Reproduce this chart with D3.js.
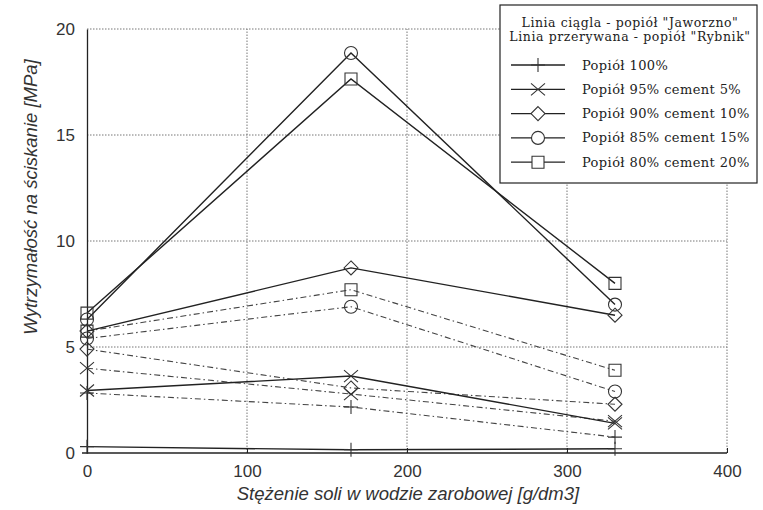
<!DOCTYPE html>
<html>
<head>
<meta charset="utf-8">
<script src="https://cdn.jsdelivr.net/npm/d3@7"></script>
<style>
  body { margin: 0; background: #fff; }
  svg { display: block; }
</style>
</head>
<body>
<div id="chart"></div>
<script>
// chart data
const concentrations = [0, 165, 330];
const seriesNames = ["Popiół 100%", "Popiół 95% cement 5%", "Popiół 90% cement 10%",
                     "Popiół 85% cement 15%", "Popiół 80% cement 20%"];
const markerTypes = ["plus", "cross", "diamond", "circle", "square"];
// solid lines - "Jaworzno" ash
const jaworzno = [
  [0.3, 0.15, 0.2],
  [2.95, 3.63, 1.4],
  [5.75, 8.73, 6.5],
  [6.3, 18.87, 7.0],
  [6.6, 17.64, 8.0]
];
// dash-dot lines - "Rybnik" ash
const rybnik = [
  [2.83, 2.17, 0.75],
  [4.0, 2.78, 1.5],
  [4.9, 3.07, 2.3],
  [5.4, 6.9, 2.9],
  [5.75, 7.7, 3.9]
];
const xTicks = [0, 100, 200, 300, 400];
const yTicks = [0, 5, 10, 15, 20];
const legendHeader = ["Linia ciągla - popiół \"Jaworzno\"", "Linia przerywana - popiół \"Rybnik\""];

var width = 763, height = 510;
var svg = d3.select("#chart").append("svg")
  .attr("width", width).attr("height", height);

// scales
var x = d3.scaleLinear().domain([0, 400]).range([87, 727]);
var y = d3.scaleLinear().domain([0, 20]).range([453, 29]);

// grid lines (dotted)
svg.append("g").selectAll("line").data(xTicks.slice(1)).enter().append("line")
  .attr("x1", d => x(d)).attr("x2", d => x(d))
  .attr("y1", y(0)).attr("y2", y(20))
  .attr("stroke", "#777").attr("stroke-width", 1)
  .attr("stroke-dasharray", "1.5,1.5");

svg.append("g").selectAll("line").data(yTicks.slice(1)).enter().append("line")
  .attr("x1", x(0)).attr("x2", x(400))
  .attr("y1", d => y(d)).attr("y2", d => y(d))
  .attr("stroke", "#777").attr("stroke-width", 1)
  .attr("stroke-dasharray", "1.5,1.5");

// axes
var xAxis = d3.axisBottom(x).tickValues(xTicks).tickSize(-5).tickPadding(12);
var yAxis = d3.axisLeft(y).tickValues(yTicks).tickSize(0).tickPadding(12);

var gx = svg.append("g").attr("transform", "translate(0," + y(0) + ")").call(xAxis);
var gy = svg.append("g").attr("transform", "translate(" + x(0) + ",0)").call(yAxis);

[gx, gy].forEach(g => {
  g.select(".domain").attr("stroke", "#222").attr("stroke-width", 1.3);
  g.selectAll(".tick line").attr("stroke", "#222");
  g.selectAll("text").attr("font-family", "Liberation Sans, Arial, sans-serif")
    .attr("font-size", 17).attr("fill", "#333");
});
gx.select(".domain").attr("d", "M" + (x(0) - 5) + ",0H" + x(400));

// axis titles
svg.append("text")
  .attr("x", 408).attr("y", 500)
  .attr("text-anchor", "middle")
  .attr("font-family", "Liberation Sans, Arial, sans-serif")
  .attr("font-style", "italic").attr("font-size", 18.5).attr("fill", "#333")
  .text("Stężenie soli w wodzie zarobowej [g/dm3]");

svg.append("text")
  .attr("transform", "translate(37,197) rotate(-90)")
  .attr("text-anchor", "middle")
  .attr("font-family", "Liberation Sans, Arial, sans-serif")
  .attr("font-style", "italic").attr("font-size", 18.5).attr("fill", "#333")
  .text("Wytrzymałość na ściskanie [MPa]");

// marker shapes
function markerPath(type){
  if(type === "plus") return "M0,-7V7M-7,0H7";
  if(type === "cross") return "M-7,-6L7,6M-7,6L7,-6";
  if(type === "diamond") return "M0,-7L7,0L0,7L-7,0Z";
  if(type === "circle") return "M-6.5,0A6.5,6.5 0 1,0 6.5,0A6.5,6.5 0 1,0 -6.5,0Z";
  return "M-6,-6H6V6H-6Z";
}

var line = d3.line().x((d, i) => x(concentrations[i])).y(d => y(d));

function drawSeries(data, dashed){
  var g = svg.append("g");
  g.selectAll("path.line").data(data).enter().append("path")
    .attr("class", "line")
    .attr("d", d => line(d))
    .attr("fill", "none")
    .attr("stroke", dashed ? "#444" : "#222")
    .attr("stroke-width", dashed ? 1.1 : 1.4)
    .attr("stroke-dasharray", dashed ? "6,3,1.5,3" : null);

  data.forEach((values, s) => {
    g.selectAll(null).data(values).enter().append("path")
      .attr("transform", (d, i) => "translate(" + x(concentrations[i]) + "," + y(d) + ")")
      .attr("d", markerPath(markerTypes[s]))
      .attr("fill", "none")
      .attr("stroke", "#333")
      .attr("stroke-width", 1.1);
  });
}

drawSeries(rybnik, true);
drawSeries(jaworzno, false);

// legend
var legend = svg.append("g");
legend.append("rect")
  .attr("x", 500).attr("y", 5).attr("width", 257).attr("height", 178)
  .attr("fill", "#fff").attr("stroke", "#222").attr("stroke-width", 1.2);

legend.selectAll("text.head").data(legendHeader).enter().append("text")
  .attr("class", "head")
  .attr("x", 630).attr("y", (d, i) => 27 + i * 14)
  .attr("text-anchor", "middle")
  .attr("font-family", "DejaVu Serif, serif").attr("font-size", 12.5)
  .attr("letter-spacing", (d, i) => i === 0 ? 0.55 : 0.6)
  .attr("fill", "#222")
  .text(d => d);

var items = legend.selectAll("g.item").data(seriesNames).enter().append("g")
  .attr("class", "item")
  .attr("transform", (d, i) => "translate(0," + (65 + i * 24.3) + ")");

items.append("line")
  .attr("x1", 511).attr("x2", 565)
  .attr("stroke", "#222").attr("stroke-width", 1.3);

items.append("path")
  .attr("transform", "translate(538,0)")
  .attr("d", (d, i) => markerPath(markerTypes[i]))
  .attr("fill", "#fff").attr("stroke", "#333").attr("stroke-width", 1.1);

items.append("text")
  .attr("x", 582).attr("y", 4.5)
  .attr("font-family", "DejaVu Serif, serif").attr("font-size", 13)
  .attr("letter-spacing", 0.4).attr("fill", "#222")
  .text(d => d);
</script>
</body>
</html>
